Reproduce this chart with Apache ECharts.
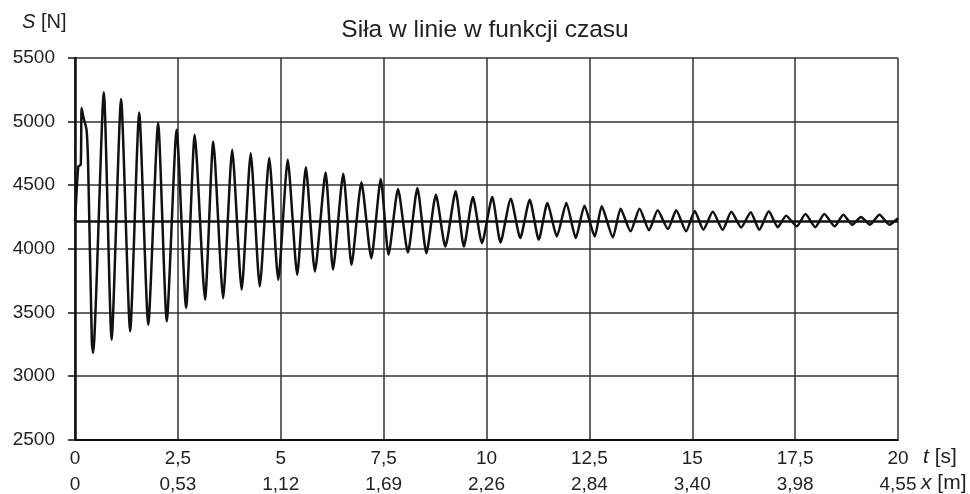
<!DOCTYPE html>
<html>
<head>
<meta charset="utf-8">
<script src="https://cdn.jsdelivr.net/npm/echarts@6/dist/echarts.min.js"></script>
<style>
  html, body { margin: 0; padding: 0; background: #fff; }
  #chart { width: 970px; height: 494px; }
</style>
</head>
<body>
<div id="chart"></div>
<script>
'use strict';

// time [s] and line force [N] (peaks / troughs)
var timeS = [0, 0.02, 0.08, 0.14, 0.16, 0.20, 0.28, 0.32, 0.41, 0.44,
  0.70, 0.89, 1.12, 1.34, 1.56, 1.78, 2.02, 2.23, 2.47, 2.70,
  2.91, 3.16, 3.36, 3.60, 3.82, 4.05, 4.27, 4.49, 4.72, 4.94,
  5.17, 5.40, 5.61, 5.83, 6.09, 6.27, 6.52, 6.72, 6.96, 7.20,
  7.43, 7.62, 7.85, 8.09, 8.32, 8.54, 8.77, 9.00, 9.25, 9.45,
  9.67, 9.89, 10.14, 10.34, 10.59, 10.82, 11.05, 11.27, 11.48, 11.71,
  11.94, 12.17, 12.38, 12.63, 12.80, 13.07, 13.26, 13.50, 13.72, 13.95,
  14.16, 14.41, 14.61, 14.85, 15.06, 15.27, 15.50, 15.74, 15.95, 16.19,
  16.42, 16.63, 16.86, 17.08, 17.28, 17.54, 17.75, 17.99, 18.21, 18.46,
  18.67, 18.89, 19.10, 19.32, 19.55, 19.79, 20.00];
var forceN = [4215, 4334, 4648, 4661, 5107, 5041, 4936, 4648, 3260, 3183,
  5230, 3285, 5177, 3350, 5072, 3403, 4989, 3430, 4936, 3535,
  4897, 3600, 4844, 3611, 4779, 3678, 4751, 3704, 4714, 3757,
  4700, 3796, 4640, 3822, 4600, 3836, 4590, 3875, 4522, 3925,
  4548, 3953, 4470, 3970, 4478, 3965, 4425, 4017, 4452, 4017,
  4406, 4044, 4406, 4050, 4394, 4085, 4386, 4072, 4360, 4097,
  4360, 4085, 4339, 4097, 4334, 4090, 4315, 4137, 4315, 4145,
  4302, 4155, 4302, 4137, 4297, 4150, 4290, 4150, 4290, 4168,
  4287, 4150, 4294, 4170, 4260, 4176, 4273, 4170, 4273, 4176,
  4268, 4189, 4250, 4189, 4268, 4189, 4240];

var meanForce = 4215;
var tTicks = ['0', '2,5', '5', '7,5', '10', '12,5', '15', '17,5', '20'];
var xTicks = ['0', '0,53', '1,12', '1,69', '2,26', '2,84', '3,40', '3,98', '4,55'];

var FONT = '"Liberation Sans", Arial, sans-serif';

var forceData = timeS.map(function (t, i) { return [t, forceN[i]]; });

var labelStyle = { fontFamily: FONT, fontSize: 19, color: '#222', lineHeight: 26 };

function unitText(left, top, sym, unit) {
  return {
    type: 'text', left: left, top: top,
    style: {
      text: '{i|' + sym + '} ' + unit,
      font: '21px ' + FONT,
      fill: '#222',
      rich: { i: { fontStyle: 'italic', fontFamily: FONT, fontSize: 21, fill: '#222' } }
    }
  };
}

var myChart = echarts.init(document.getElementById('chart'));
var option = {
  backgroundColor: '#fff',
  animation: false,
  title: {
    text: 'Siła w linie w funkcji czasu',
    left: 'center',
    top: 13,
    textStyle: { fontFamily: FONT, fontSize: 24.5, fontWeight: 'normal', color: '#222' }
  },
  grid: { left: 75, right: 72, top: 58, bottom: 54 },
  xAxis: {
    type: 'value',
    min: 0,
    max: 20,
    interval: 2.5,
    axisLine: { lineStyle: { color: '#111', width: 2 } },
    axisTick: { show: false },
    splitLine: { lineStyle: { color: '#333', width: 1.5 } },
    axisLabel: {
      margin: 6,
      fontFamily: FONT,
      formatter: function (v) {
        var i = Math.round(v / 2.5);
        return '{t|' + tTicks[i] + '}\n{x|' + xTicks[i] + '}';
      },
      rich: { t: labelStyle, x: labelStyle }
    }
  },
  yAxis: {
    type: 'value',
    min: 2500,
    max: 5500,
    interval: 500,
    axisLine: { show: true, lineStyle: { color: '#111', width: 2.5 } },
    axisTick: { show: true, length: 7, lineStyle: { color: '#111', width: 1.5 } },
    splitLine: { lineStyle: { color: '#333', width: 1.5 } },
    axisLabel: {
      margin: 20, fontFamily: FONT, fontSize: 19, color: '#222',
      formatter: function (v) { return String(v); }
    }
  },
  graphic: [
    {
      type: 'text', left: 22, top: 12,
      style: {
        text: '{i|S} [N]',
        font: '20px ' + FONT,
        fill: '#222',
        rich: { i: { fontStyle: 'italic', fontFamily: FONT, fontSize: 20, fill: '#222' } }
      }
    },
    unitText(923, 447, 't', '[s]'),
    unitText(921, 473, 'x', '[m]')
  ],
  series: [
    {
      name: 'srednia',
      type: 'line',
      data: [[0, meanForce], [20, meanForce]],
      symbol: 'none',
      lineStyle: { color: '#111', width: 2.5 },
      z: 3
    },
    {
      name: 'S',
      type: 'line',
      data: forceData,
      symbol: 'none',
      smooth: 0.2,
      lineStyle: { color: '#111', width: 2.5 },
      z: 4
    }
  ]
};
myChart.setOption(option);

window.addEventListener('resize', function () {
  myChart.resize();
});
</script>
</body>
</html>
